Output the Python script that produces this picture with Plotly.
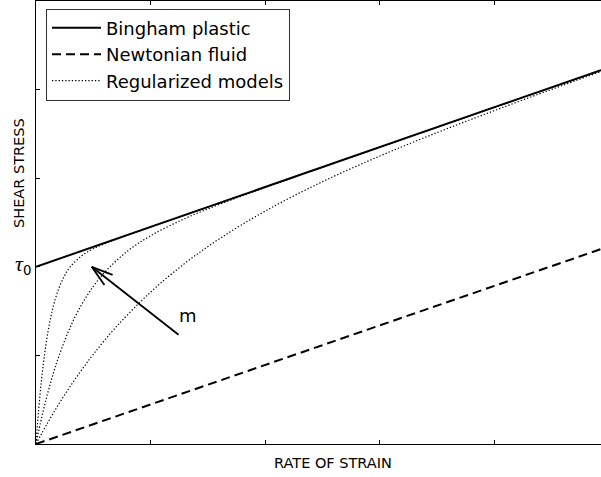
import plotly.graph_objects as go

# Data
x_line = [0.0, 4.93]
bingham_y = [2.0, 4.22]
newtonian_y = [0.0, 2.2]

reg_a_x = [0, 0.01, 0.02, 0.035, 0.05, 0.065, 0.08, 0.1, 0.12, 0.14, 0.16, 0.2, 0.25, 0.3, 0.4, 0.5, 0.7, 1.0, 2.0, 3.0, 4.0, 4.93]
reg_a_y = [0, 0.177, 0.338, 0.556, 0.747, 0.915, 1.062, 1.232, 1.375, 1.496, 1.598, 1.759, 1.902, 2.001, 2.125, 2.203, 2.311, 2.45, 2.9, 3.35, 3.8, 4.218]

reg_b_x = [0, 0.05, 0.1, 0.15, 0.2, 0.3, 0.4, 0.5, 0.6, 0.8, 1.0, 1.3, 1.6, 2.0, 3.0, 4.0, 4.93]
reg_b_y = [0, 0.301, 0.563, 0.792, 0.992, 1.322, 1.578, 1.779, 1.939, 2.179, 2.350, 2.545, 2.704, 2.895, 3.35, 3.8, 4.218]

reg_c_x = [0, 0.1, 0.2, 0.3, 0.4, 0.5, 0.7, 1.0, 1.3, 1.6, 2.0, 2.5, 3.0, 3.5, 4.0, 4.5, 4.93]
reg_c_y = [0, 0.235, 0.453, 0.653, 0.839, 1.012, 1.322, 1.714, 2.04, 2.316, 2.629, 2.961, 3.25, 3.515, 3.763, 4.003, 4.204]

x_ticks = [0, 1, 2, 3, 4]
y_ticks = [0, 1, 2, 3, 4, 5]
tau0 = 2.0
arrow_head = (0.486, 2.0)
arrow_tail = (1.257, 1.22)
m_label_pos = (1.33, 1.45)

FONT = "DejaVu Sans"
dot = "1.3px,2px"

fig = go.Figure()
fig.add_trace(go.Scatter(x=x_line, y=bingham_y, mode="lines", name="Bingham plastic",
                         line=dict(color="black", width=2)))
fig.add_trace(go.Scatter(x=x_line, y=newtonian_y, mode="lines", name="Newtonian fluid",
                         line=dict(color="black", width=2, dash="9px,5px")))
for i, (xs, ys) in enumerate([(reg_a_x, reg_a_y), (reg_b_x, reg_b_y), (reg_c_x, reg_c_y)]):
    fig.add_trace(go.Scatter(x=xs, y=ys, mode="lines", name="Regularized models",
                             showlegend=(i == 0), line=dict(color="black", width=1.2, dash=dot, shape="spline")))

fig.update_layout(
    width=601, height=477,
    margin=dict(l=36, r=0, t=1, b=33),
    paper_bgcolor="white", plot_bgcolor="white",
    font=dict(family=FONT, color="black"),
    showlegend=True,
    legend=dict(x=0.0177, y=0.983, xanchor="left", yanchor="top",
                bgcolor="white", bordercolor="#333", borderwidth=1, itemwidth=49,
                font=dict(size=18, family=FONT)),
    xaxis=dict(range=[0, 4.93], showgrid=False, zeroline=False, showline=True,
               linecolor="black", linewidth=1, mirror="ticks", ticks="inside", ticklen=4,
               tickcolor="black", tickvals=x_ticks, showticklabels=False),
    yaxis=dict(range=[0, 5], showgrid=False, zeroline=False, showline=True,
               linecolor="black", linewidth=1, mirror=False, ticks="inside", ticklen=4,
               tickcolor="black", tickvals=y_ticks, showticklabels=False),
)

# arrow shaft
fig.add_annotation(x=arrow_head[0], y=arrow_head[1], ax=arrow_tail[0], ay=arrow_tail[1],
                   xref="x", yref="y", axref="x", ayref="y", text="", showarrow=True,
                   arrowhead=0, arrowwidth=1.8, arrowcolor="black", standoff=0)
# open arrow head arms (pixel offsets from the tip)
for ax_off, ay_off in [(22.4, 8.6), (13.8, 19.6)]:
    fig.add_annotation(x=arrow_head[0], y=arrow_head[1], ax=ax_off, ay=ay_off,
                       xref="x", yref="y", text="", showarrow=True,
                       arrowhead=0, arrowwidth=1.8, arrowcolor="black", standoff=0)
fig.add_annotation(x=m_label_pos[0], y=m_label_pos[1], xref="x", yref="y", text="m",
                   showarrow=False, font=dict(size=18, family=FONT), xanchor="center", yanchor="middle")
fig.add_annotation(x=-0.0053, y=tau0 + 0.03, xref="paper", yref="y",
                   text="<span style='font-family:Liberation Serif;font-size:22px'><i>τ</i></span><sub>0</sub>",
                   showarrow=False, xanchor="right", yanchor="middle", font=dict(size=19, family=FONT))
fig.add_annotation(x=0.526, y=-0.043, xref="paper", yref="paper", text="RATE OF STRAIN",
                   showarrow=False, xanchor="center", yanchor="middle", font=dict(size=14.5, family=FONT))
fig.add_annotation(x=-0.030, y=0.612, xref="paper", yref="paper", text="SHEAR STRESS", textangle=-90,
                   showarrow=False, xanchor="center", yanchor="middle", font=dict(size=14.5, family=FONT))

fig.write_html("out.html", config={"displayModeBar": False},
               post_script="document.body.style.margin='0px';")
